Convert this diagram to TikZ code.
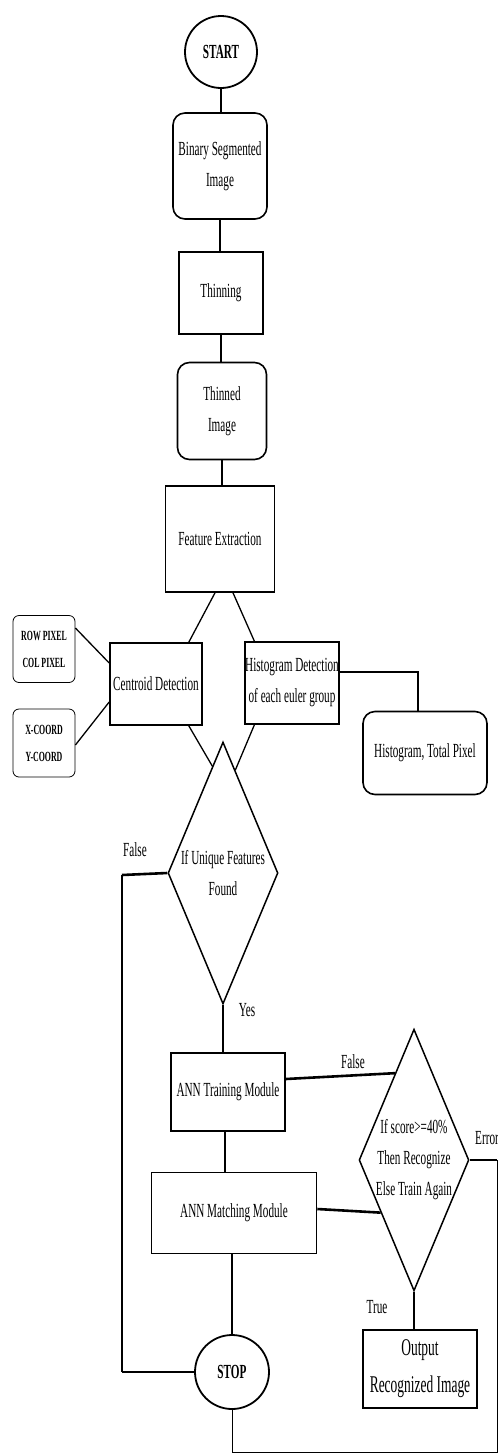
\documentclass[tikz,border=0pt]{standalone}
\usepackage{fontspec}
\setmainfont{Liberation Serif}[FakeStretch=0.56]
\usepackage{tikz}
\usetikzlibrary{shapes.geometric,calc}

\begin{document}
\begin{tikzpicture}[x=1pt,y=-1pt,
  every node/.style={font=\fontsize{20}{31}\selectfont},
  proc/.style={draw,line width=1.6pt,align=center,inner sep=1pt},
  rproc/.style={proc,rounded corners=12pt},
  note/.style={draw,line width=0.8pt,rounded corners=6pt,align=center,inner sep=0pt,font=\fontsize{14}{27}\selectfont\bfseries},
  term/.style={draw,circle,line width=1.8pt,minimum size=72pt,inner sep=0pt,font=\fontsize{20}{20}\selectfont\bfseries},
  decide/.style={draw,diamond,line width=1.5pt,aspect=0.42,inner sep=0pt,align=center},
  conn/.style={line width=1.3pt},
  heavy/.style={line width=2.6pt},
  lbl/.style={inner sep=0pt}]
\useasboundingbox (0,0) rectangle (498,1454);

% main column
\node[term] (start) at (221,52) {START};
\node[rproc,minimum width=94pt,minimum height=106pt] (binseg) at (220,166) {Binary Segmented\\Image};
\node[proc,minimum width=84pt,minimum height=82pt] (thin) at (221,293) {Thinning};
\node[rproc,minimum width=89pt,minimum height=97pt] (thinned) at (222,411) {Thinned\\Image};
\node[proc,minimum width=109pt,minimum height=106pt] (feat) at (220,539) {Feature Extraction};

% features
\node[proc,minimum width=92pt,minimum height=82pt] (centroid) at (156,684) {Centroid Detection};
\node[proc,minimum width=92pt,minimum height=82pt,inner xsep=0pt] (histdet) at (292,683) {Histogram Detection\\of each euler group};
\node[note,minimum width=62pt,minimum height=67pt] (rowpix) at (44,649) {ROW PIXEL\\COL PIXEL};
\node[note,minimum width=62pt,minimum height=68pt] (xcoord) at (44,743) {X-COORD\\Y-COORD};
\node[rproc,minimum width=124pt,minimum height=83pt] (histtot) at (425,753) {Histogram, Total Pixel};

% decisions and ANN
\node[decide,minimum width=110pt,minimum height=262pt] (unique) at (223,873) {If Unique Features\\Found};
\node[proc,minimum width=114pt,minimum height=78pt] (anntrain) at (228,1092) {ANN Training Module};
\node[decide,minimum width=102pt,minimum height=245pt] (score) at (414,1160) {If score>=40\%\\Then Recognize\\Else Train Again};
\node[proc,minimum width=165pt,minimum height=81pt] (annmatch) at (234,1213) {ANN Matching Module};
\node[term,minimum size=74pt] (stop) at (232,1372) {STOP};
\node[proc,minimum width=114pt,minimum height=78pt,font=\fontsize{24}{37}\selectfont] (output) at (420,1369) {Output\\Recognized Image};

% labels
\node[lbl] (lfalse) at (135,850) {False};
\node[lbl] (lyes) at (247,1010) {Yes};
\node[lbl] (lfalsetwo) at (353,1062) {False};
\node[lbl] (ltrue) at (377,1307) {True};
\node[lbl,anchor=west] (lerror) at (475,1138) {Error};

\coordinate (falsebend) at (122,875);
\coordinate (errbend) at (497,1452);

% connectors
\draw[conn] (start.south) -- (start.south |- binseg.north);
\draw[conn] (binseg.south) -- (binseg.south |- thin.north);
\draw[conn] (thin.south) -- (thin.south |- thinned.north);
\draw[conn] (thinned.south) -- (thinned.south |- feat.north);
\draw[conn] ([xshift=-5pt]feat.south) -- ([xshift=-14pt]centroid.north east);
\draw[conn] ([xshift=13pt]feat.south) -- ([xshift=10pt]histdet.north west);
\draw[conn] ([xshift=-14pt]centroid.south east) -- ($(unique.north)!0.19!(unique.west)$);
\draw[conn] ([xshift=10pt]histdet.south west) -- ($(unique.north)!0.22!(unique.east)$);
\draw[conn] ([yshift=21pt]rowpix.east) -- ([yshift=21pt]centroid.west);
\draw[conn] ([yshift=-2pt]xcoord.east) -- ([yshift=-18pt]centroid.west);
\draw[heavy] ([yshift=11pt]histdet.east) -| ([xshift=-7pt]histtot.north);
\draw[conn] (unique.south) -- (unique.south |- anntrain.north);
\draw[heavy] (unique.west) -- (falsebend);
\draw[conn] (falsebend) -- (falsebend |- stop.west);
\draw[heavy] (falsebend |- stop.west) -- (stop.west);
\draw[heavy] ([yshift=13pt]anntrain.east) -- ($(score.north)!0.34!(score.west)$);
\draw[heavy] ([yshift=4pt]annmatch.east) -- ($(score.west)!0.4!(score.south)$);
\draw[conn] (score.south) -- (score.south |- output.north);
\draw[conn] ([xshift=-3pt]anntrain.south) -- ([xshift=-3pt]anntrain.south |- annmatch.north);
\draw[conn] (stop.north |- annmatch.south) -- (stop.north);
\draw[heavy] (score.east) -- (score.east -| errbend);
\draw[line width=0.8pt] (score.east -| errbend) -- (errbend) -| (stop.south);
\end{tikzpicture}
\end{document}
